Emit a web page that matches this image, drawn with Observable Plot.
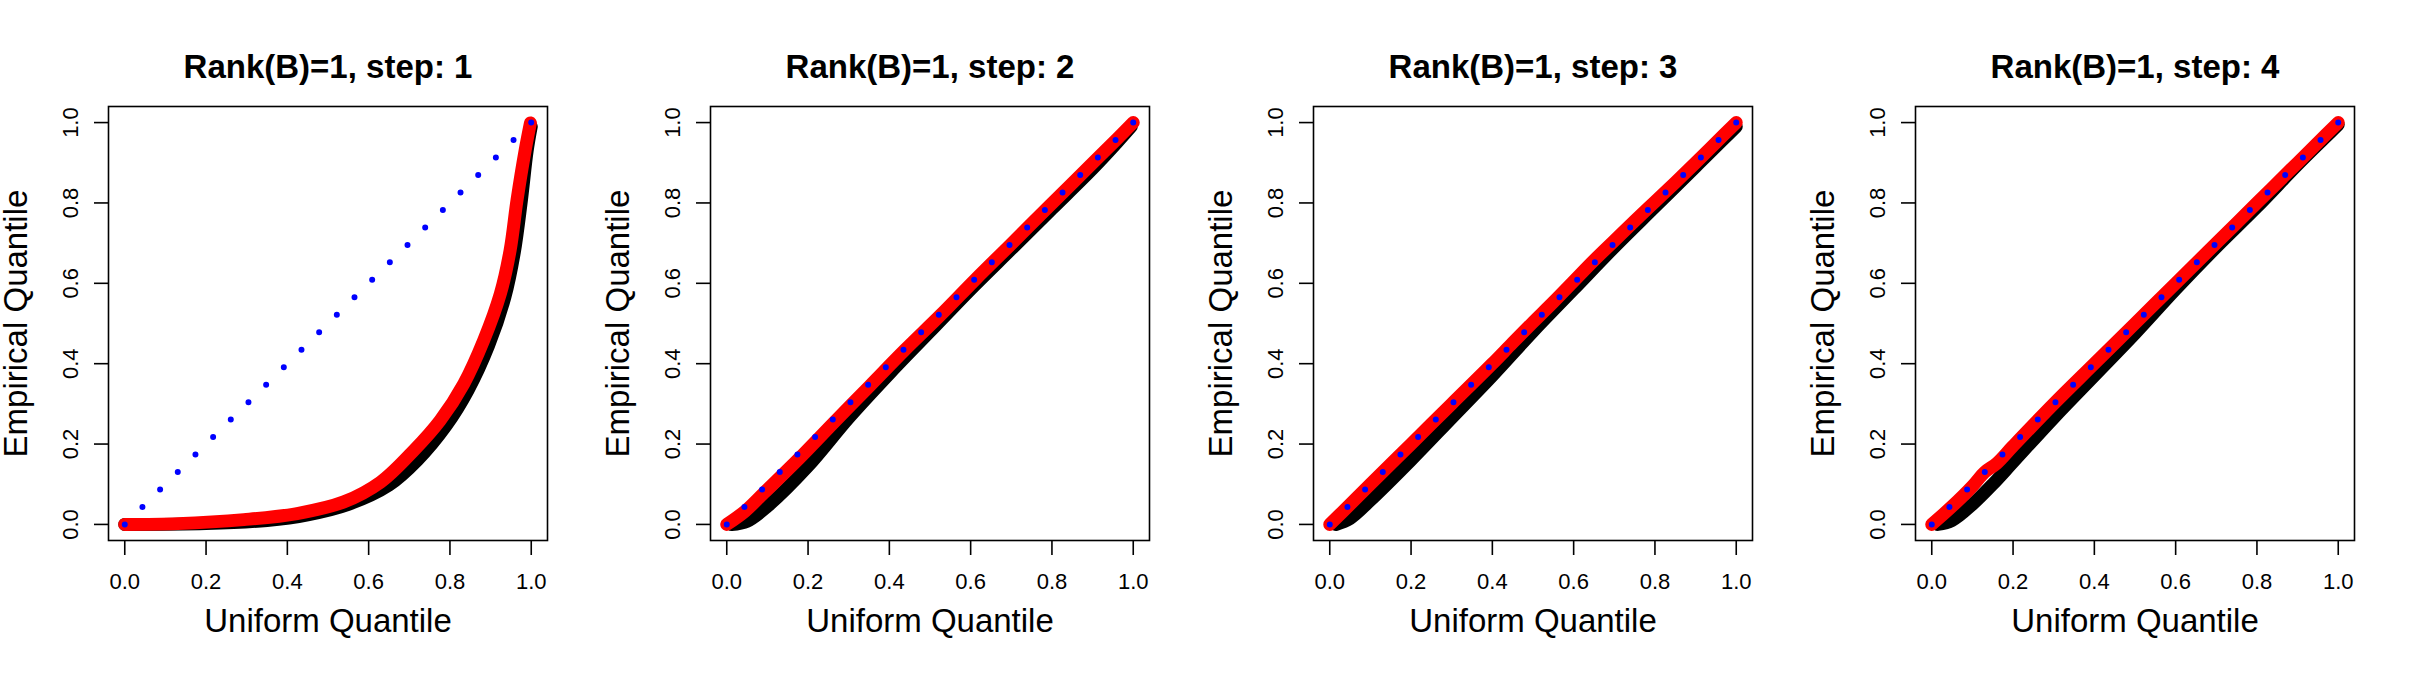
<!DOCTYPE html>
<html><head><meta charset="utf-8">
<script src="https://cdn.jsdelivr.net/npm/d3@7"></script>
<script src="https://cdn.jsdelivr.net/npm/@observablehq/plot@0.6"></script>
<style>
body{margin:0;background:#fff;}
#wrap{position:relative;width:2409px;height:675px;background:#fff;}
.panel{position:absolute;top:0;}
</style></head><body><div id="wrap"></div>
<script>
const titles = ["Rank(B)=1, step: 1", "Rank(B)=1, step: 2", "Rank(B)=1, step: 3", "Rank(B)=1, step: 4"];
const xLabel = "Uniform Quantile";
const yLabel = "Empirical Quantile";
const xTicks = [0, 0.2, 0.4, 0.6, 0.8, 1.0];
const yTicks = [0, 0.2, 0.4, 0.6, 0.8, 1.0];
const diagX = [0, 1];

// step 1
const red1x = [0, 0.13, 0.293, 0.424, 0.539, 0.629, 0.711, 0.776, 0.834, 0.883, 0.924, 0.948, 0.965, 0.985, 0.998];
const red1y = [0, 0.002, 0.012, 0.027, 0.056, 0.105, 0.184, 0.259, 0.350, 0.458, 0.574, 0.682, 0.807, 0.931, 0.999];
const black1x = [0, 0.2, 0.35, 0.45, 0.55, 0.65, 0.72, 0.79, 0.845, 0.895, 0.935, 0.958, 0.975, 0.99, 1.0];
const black1y = [0, 0.002, 0.01, 0.024, 0.05, 0.098, 0.16, 0.245, 0.335, 0.445, 0.565, 0.675, 0.8, 0.93, 0.99];
// step 2
const red2x = [0, 0.045, 0.091, 0.177, 0.263, 0.351, 0.437, 0.525, 0.612, 0.699, 0.787, 0.874, 0.961, 1.0];
const red2y = [0, 0.033, 0.078, 0.163, 0.253, 0.344, 0.433, 0.52, 0.61, 0.697, 0.786, 0.873, 0.96, 1.0];
const black2x = [0.012, 0.05, 0.1, 0.2, 0.3, 0.4, 0.5, 0.6, 0.7, 0.8, 0.9, 0.96, 0.995];
const black2y = [0.0, 0.008, 0.045, 0.145, 0.265, 0.375, 0.48, 0.585, 0.685, 0.785, 0.885, 0.95, 0.99];
// step 3
const red3x = [0, 0.05, 0.1, 0.2, 0.3, 0.4, 0.45, 0.5, 0.55, 0.6, 0.65, 0.7, 0.75, 0.8, 0.85, 0.9, 0.95, 1.0];
const red3y = [0, 0.05, 0.1, 0.2, 0.3, 0.4, 0.452, 0.503, 0.553, 0.605, 0.657, 0.706, 0.755, 0.803, 0.851, 0.9, 0.95, 1.0];
const black3x = [0.015, 0.05, 0.1, 0.2, 0.3, 0.4, 0.5, 0.6, 0.7, 0.8, 0.9, 0.97, 1.0];
const black3y = [0, 0.015, 0.06, 0.16, 0.265, 0.37, 0.48, 0.585, 0.69, 0.79, 0.89, 0.96, 0.99];
// step 4
const red4x = [0, 0.05, 0.1, 0.13, 0.16, 0.2, 0.3, 0.4, 0.5, 0.6, 0.7, 0.8, 0.9, 0.95, 1.0];
const red4y = [0, 0.045, 0.095, 0.13, 0.152, 0.195, 0.3, 0.4, 0.5, 0.6, 0.7, 0.8, 0.9, 0.95, 1.0];
const black4x = [0.015, 0.05, 0.1, 0.15, 0.2, 0.3, 0.4, 0.5, 0.6, 0.7, 0.8, 0.9, 0.97, 1.0];
const black4y = [0, 0.01, 0.05, 0.1, 0.155, 0.265, 0.37, 0.475, 0.585, 0.69, 0.79, 0.895, 0.965, 0.995];

const panels = [
  {title: titles[0], rx: red1x, ry: red1y, bx: black1x, by: black1y},
  {title: titles[1], rx: red2x, ry: red2y, bx: black2x, by: black2y},
  {title: titles[2], rx: red3x, ry: red3y, bx: black3x, by: black3y},
  {title: titles[3], rx: red4x, ry: red4y, bx: black4x, by: black4y}
];

const fmt = d3.format(".1f");
const font = "'Liberation Sans', Arial, Helvetica, sans-serif";
const wrap = document.getElementById("wrap");

panels.forEach((p, i) => {
  const red = p.rx.map((x, j) => ({x, y: p.ry[j]}));
  const black = p.bx.map((x, j) => ({x, y: p.by[j]}));
  const diag = diagX.map(v => ({x: v, y: v}));
  const chart = Plot.plot({
    width: 602, height: 675,
    marginLeft: 108, marginRight: 55, marginTop: 106, marginBottom: 135,
    x: {domain: [-0.04, 1.04]},
    y: {domain: [-0.04, 1.04]},
    style: {fontFamily: font, background: "white", color: "black", overflow: "visible"},
    marks: [
      Plot.line(black, {x: "x", y: "y", stroke: "black", strokeWidth: 13, strokeLinecap: "round", strokeLinejoin: "round", curve: "catmull-rom"}),
      Plot.line(red, {x: "x", y: "y", stroke: "#ff0000", strokeWidth: 13, strokeLinecap: "round", strokeLinejoin: "round", curve: "catmull-rom"}),
      Plot.line(diag, {x: "x", y: "y", stroke: "#0000ff", strokeWidth: 6, strokeDasharray: "0 24.85", strokeLinecap: "round"}),
      Plot.frame({stroke: "black", strokeWidth: 1.6}),
      Plot.axisX({ticks: xTicks, tickSize: 15, tickPadding: 18, fontSize: 22, label: null, tickFormat: fmt, strokeWidth: 1.6}),
      Plot.axisY({ticks: yTicks, tickSize: 14, tickFormat: () => "", label: null, strokeWidth: 1.6}),
      Plot.text(yTicks, {y: d => d, frameAnchor: "left", dx: -38, rotate: -90, textAnchor: "middle", text: d => fmt(d), fontSize: 22}),
      Plot.text([xLabel], {frameAnchor: "bottom", dy: 91, textAnchor: "middle", text: d => d, fontSize: 33}),
      Plot.text([yLabel], {frameAnchor: "left", dx: -92, rotate: -90, textAnchor: "middle", text: d => d, fontSize: 33}),
      Plot.text([p.title], {frameAnchor: "top", dy: -52, textAnchor: "middle", text: d => d, fontSize: 33, fontWeight: "bold"})
    ]
  });
  const div = document.createElement("div");
  div.className = "panel";
  div.style.left = Math.round(i * 602.25) + "px";
  div.appendChild(chart);
  wrap.appendChild(div);
});
</script>
</body></html>
